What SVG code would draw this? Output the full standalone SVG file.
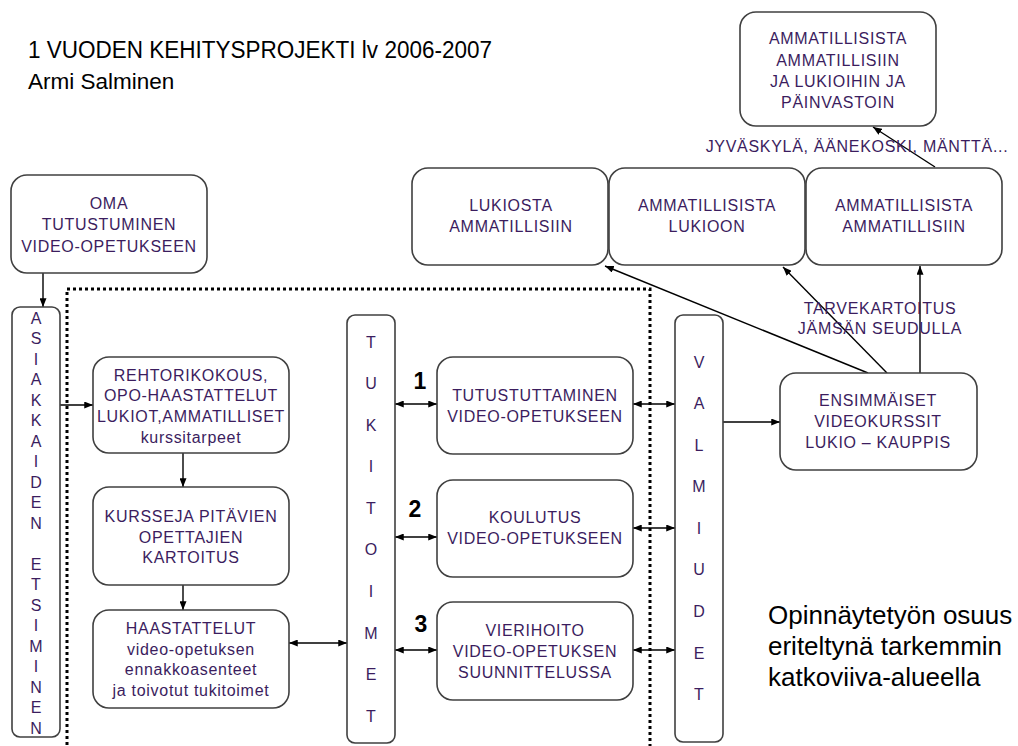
<svg xmlns="http://www.w3.org/2000/svg" width="1018" height="746" viewBox="0 0 1018 746">
<defs>
<style>
.box{fill:#fff;stroke:#404040;stroke-width:1.6}
.t{font-family:"Liberation Sans",Arial,sans-serif;font-size:16px;fill:#3b1d5e;text-anchor:middle;letter-spacing:0.7px}
.v{font-family:"Liberation Sans",Arial,sans-serif;font-size:16px;fill:#3b1d5e;text-anchor:middle}
.big{font-family:"Liberation Sans",Arial,sans-serif;fill:#000}
.num{font-family:"Liberation Sans",Arial,sans-serif;font-size:23px;font-weight:bold;fill:#000;text-anchor:middle}
.c{stroke:#000;stroke-width:1.4;fill:none;marker-end:url(#ah)}
.d{marker-start:url(#ah)}
</style>
<marker id="ah" viewBox="0 0 10 8" refX="10" refY="4" markerWidth="9" markerHeight="7" markerUnits="userSpaceOnUse" orient="auto-start-reverse">
<path d="M0,0 L10,4 L0,8 z" fill="#000"/>
</marker>
</defs>
<rect width="1018" height="746" fill="#fff"/>

<g id="title">
<text class="big" x="28" y="58" font-size="23" textLength="464" lengthAdjust="spacingAndGlyphs">1 VUODEN KEHITYSPROJEKTI lv 2006-2007</text>
<text class="big" x="28" y="89" font-size="22.5">Armi Salminen</text>
</g>

<g id="note">
<text class="big" x="768" y="624" font-size="26">Opinnäytetyön osuus</text>
<text class="big" x="768" y="655" font-size="26">eriteltynä tarkemmin</text>
<text class="big" x="768" y="686" font-size="26">katkoviiva-alueella</text>
</g>

<rect id="dotted-area" x="67" y="289" width="583" height="470" fill="none" stroke="#000" stroke-width="3" stroke-dasharray="3 3"/>

<g id="connectors">
<line class="c" x1="43" y1="273" x2="43" y2="307"/>
<line class="c" x1="60" y1="405" x2="93" y2="405"/>
<line class="c" x1="183" y1="453" x2="183" y2="487"/>
<line class="c" x1="183" y1="585" x2="183" y2="610"/>
<line class="c d" x1="289" y1="643" x2="347" y2="643"/>
<line class="c d" x1="395" y1="404" x2="437" y2="404"/>
<line class="c d" x1="395" y1="537" x2="437" y2="537"/>
<line class="c d" x1="395" y1="650" x2="437" y2="650"/>
<line class="c d" x1="633" y1="404" x2="675" y2="404"/>
<line class="c d" x1="633" y1="528" x2="675" y2="528"/>
<line class="c d" x1="633" y1="650" x2="675" y2="650"/>
<line class="c" x1="723" y1="422" x2="780" y2="422"/>
<line class="c" x1="868" y1="373" x2="605" y2="266"/>
<line class="c" x1="887" y1="373" x2="783" y2="267"/>
<line class="c" x1="920" y1="373" x2="920" y2="266"/>
<line class="c" x1="935" y1="167" x2="873" y2="127"/>
</g>

<g id="top-box">
<rect class="box" x="740" y="12" width="196" height="114" rx="16"/>
<text class="t" x="838" y="44">AMMATILLISISTA</text>
<text class="t" x="838" y="65.5">AMMATILLISIIN</text>
<text class="t" x="838" y="87">JA LUKIOIHIN JA</text>
<text class="t" x="838" y="108">PÄINVASTOIN</text>
</g>

<g id="label-jyvaskyla">
<text class="t" x="857" y="151.5">JYVÄSKYLÄ, ÄÄNEKOSKI, MÄNTTÄ...</text>
</g>

<g id="lukiosta">
<rect class="box" x="412" y="168" width="196" height="97" rx="16"/>
<text class="t" x="511" y="211">LUKIOSTA</text>
<text class="t" x="511" y="232">AMMATILLISIIN</text>
</g>

<g id="amm-lukioon">
<rect class="box" x="609" y="168" width="196" height="97" rx="16"/>
<text class="t" x="707" y="211">AMMATILLISISTA</text>
<text class="t" x="707" y="232">LUKIOON</text>
</g>

<g id="amm-amm">
<rect class="box" x="806" y="168" width="196" height="97" rx="16"/>
<text class="t" x="904" y="211">AMMATILLISISTA</text>
<text class="t" x="904" y="232">AMMATILLISIIN</text>
</g>

<g id="oma">
<rect class="box" x="11" y="175" width="196" height="98" rx="16"/>
<text class="t" x="109" y="208.5">OMA</text>
<text class="t" x="109" y="230">TUTUSTUMINEN</text>
<text class="t" x="109" y="251.5">VIDEO-OPETUKSEEN</text>
</g>

<g id="asiakkaiden">
<rect class="box" x="12" y="307" width="48" height="430" rx="8"/>
<text class="v" x="36" y="323.5">A</text>
<text class="v" x="36" y="344">S</text>
<text class="v" x="36" y="364.5">I</text>
<text class="v" x="36" y="385">A</text>
<text class="v" x="36" y="405.5">K</text>
<text class="v" x="36" y="426">K</text>
<text class="v" x="36" y="446.5">A</text>
<text class="v" x="36" y="467">I</text>
<text class="v" x="36" y="487.5">D</text>
<text class="v" x="36" y="508">E</text>
<text class="v" x="36" y="528.5">N</text>
<text class="v" x="36" y="569.5">E</text>
<text class="v" x="36" y="590">T</text>
<text class="v" x="36" y="610.5">S</text>
<text class="v" x="36" y="631">I</text>
<text class="v" x="36" y="651.5">M</text>
<text class="v" x="36" y="672">I</text>
<text class="v" x="36" y="692.5">N</text>
<text class="v" x="36" y="713">E</text>
<text class="v" x="36" y="733.5">N</text>
</g>

<g id="rehtori">
<rect class="box" x="93" y="357" width="196" height="96" rx="16"/>
<text class="t" x="191" y="380.5">REHTORIKOKOUS,</text>
<text class="t" x="191" y="401">OPO-HAASTATTELUT</text>
<text class="t" x="191" y="422">LUKIOT,AMMATILLISET</text>
<text class="t" x="191" y="443">kurssitarpeet</text>
</g>

<g id="kursseja">
<rect class="box" x="93" y="487" width="196" height="98" rx="16"/>
<text class="t" x="191" y="522">KURSSEJA PITÄVIEN</text>
<text class="t" x="191" y="543">OPETTAJIEN</text>
<text class="t" x="191" y="563">KARTOITUS</text>
</g>

<g id="haastattelut">
<rect class="box" x="93" y="610" width="196" height="98" rx="16"/>
<text class="t" x="191" y="634">HAASTATTELUT</text>
<text class="t" x="191" y="654.5">video-opetuksen</text>
<text class="t" x="191" y="675">ennakkoasenteet</text>
<text class="t" x="191" y="695.5">ja toivotut tukitoimet</text>
</g>

<g id="tukitoimet">
<rect class="box" x="347" y="315" width="48" height="428" rx="8"/>
<text class="v" x="371" y="347.5">T</text>
<text class="v" x="371" y="389">U</text>
<text class="v" x="371" y="430.5">K</text>
<text class="v" x="371" y="472">I</text>
<text class="v" x="371" y="513.5">T</text>
<text class="v" x="371" y="555">O</text>
<text class="v" x="371" y="597">I</text>
<text class="v" x="371" y="638.5">M</text>
<text class="v" x="371" y="680">E</text>
<text class="v" x="371" y="722">T</text>
</g>

<g id="numbers">
<text class="num" x="420" y="389">1</text>
<text class="num" x="415" y="517">2</text>
<text class="num" x="421" y="632">3</text>
</g>

<g id="tutustuttaminen">
<rect class="box" x="437" y="357" width="196" height="97" rx="16"/>
<text class="t" x="535" y="400.5">TUTUSTUTTAMINEN</text>
<text class="t" x="535" y="421.5">VIDEO-OPETUKSEEN</text>
</g>

<g id="koulutus">
<rect class="box" x="437" y="480" width="196" height="97" rx="16"/>
<text class="t" x="535" y="522.5">KOULUTUS</text>
<text class="t" x="535" y="543.5">VIDEO-OPETUKSEEN</text>
</g>

<g id="vierihoito">
<rect class="box" x="437" y="602" width="196" height="98" rx="16"/>
<text class="t" x="535" y="635.5">VIERIHOITO</text>
<text class="t" x="535" y="656.5">VIDEO-OPETUKSEN</text>
<text class="t" x="535" y="677.5">SUUNNITTELUSSA</text>
</g>

<g id="valmiudet">
<rect class="box" x="675" y="315" width="48" height="427" rx="8"/>
<text class="v" x="699" y="367.5">V</text>
<text class="v" x="699" y="409">A</text>
<text class="v" x="699" y="450.5">L</text>
<text class="v" x="699" y="492">M</text>
<text class="v" x="699" y="533.5">I</text>
<text class="v" x="699" y="575">U</text>
<text class="v" x="699" y="617">D</text>
<text class="v" x="699" y="658.5">E</text>
<text class="v" x="699" y="700">T</text>
</g>

<g id="ensimmaiset">
<rect class="box" x="780" y="373" width="197" height="97" rx="16"/>
<text class="t" x="878" y="405.5">ENSIMMÄISET</text>
<text class="t" x="878" y="426.5">VIDEOKURSSIT</text>
<text class="t" x="878" y="447.5">LUKIO – KAUPPIS</text>
</g>

<g id="label-tarve">
<text class="t" x="880" y="313.5">TARVEKARTOITUS</text>
<text class="t" x="880" y="333.5">JÄMSÄN SEUDULLA</text>
</g>
</svg>
